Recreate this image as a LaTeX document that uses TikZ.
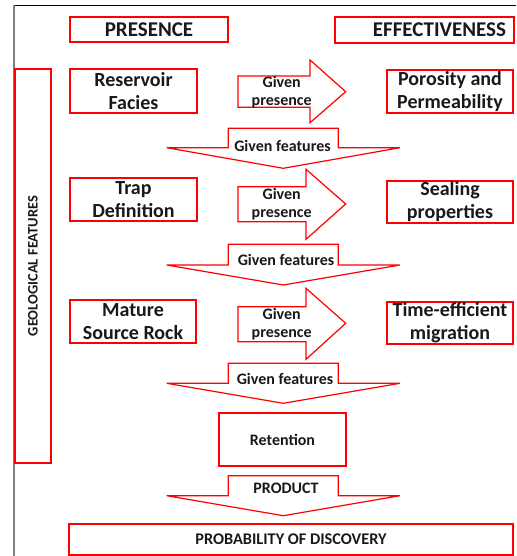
\documentclass[tikz,border=0pt]{standalone}
\usepackage{fontspec}
\setmainfont{Carlito}
\usepackage{tikz}
\usetikzlibrary{positioning}
\tikzstyle{redbox} = [rectangle, draw=red, line width=1.2pt, inner sep=0pt, align=center, text=black!90, font=\bfseries\fontsize{20}{23}\selectfont]
\tikzstyle{blockarrow} = [draw=red, line width=1.2pt, fill=white, line join=miter]
\tikzstyle{arrowtext} = [align=center, text=black!90, font=\bfseries\fontsize{16}{18}\selectfont]

\begin{document}
\begin{tikzpicture}[x=1pt, y=-1pt]
    \useasboundingbox (0,0) rectangle (516,556);
    % Frame
    \draw[line width=0.8pt] (14,5) -- (516,5);
    \draw[gray, line width=1.3pt] (14,5) -- (14,556);

    % Column headings
    \node[redbox, minimum width=158pt, minimum height=25pt, font=\bfseries\fontsize{21}{24}\selectfont] (presence) at (149,29.5) {PRESENCE};
    \node[redbox, minimum width=179pt, minimum height=26pt, text width=163pt, inner xsep=8pt, align=right, font=\bfseries\fontsize{21}{24}\selectfont] (effective) at (424.5,30) {EFFECTIVENESS};

    % Side box
    \node[redbox, rotate=90, minimum width=394pt, minimum height=36pt, font=\bfseries\fontsize{14.5}{17}\selectfont] (geology) at (33,266) {GEOLOGICAL FEATURES};

    % Reservoir row
    \node[redbox, minimum width=127pt, minimum height=44pt] (reservoir) at (133.5,91) {Reservoir\\Facies};
    \node[redbox, minimum width=126pt, minimum height=43pt] (porosity) at (450,91.5) {Porosity and\\Permeability};
    \draw[blockarrow] (238,76) -- (310,76) -- (310,60) -- (345.7,91.7) -- (310,122.7) -- (310,107.3) -- (238,107.3) -- cycle;
    \node[arrowtext] (given1) at (281.7,92) {Given\\presence};

    % Features arrow 1
    \draw[blockarrow] (228.3,128.3) -- (338.3,128.3) -- (338.3,147.7) -- (400,147.7) -- (283.3,168.3) -- (166.7,147.7) -- (228.3,147.7) -- cycle;
    \node[arrowtext] (features1) at (282.5,146) {Given features};

    % Trap row
    \node[redbox, minimum width=127pt, minimum height=43pt] (trap) at (133.5,199.5) {Trap\\Definition};
    \node[redbox, minimum width=126pt, minimum height=42pt] (sealing) at (450,202) {Sealing\\properties};
    \draw[blockarrow] (238,186.7) -- (306,186.7) -- (306,169.3) -- (345.7,204) -- (306,239.3) -- (306,221.7) -- (238,221.7) -- cycle;
    \node[arrowtext] (given2) at (281.7,204.5) {Given\\presence};

    % Features arrow 2
    \draw[blockarrow] (228.3,244.3) -- (338.3,244.3) -- (338.3,265) -- (400,265) -- (283.3,285) -- (166.7,265) -- (228.3,265) -- cycle;
    \node[arrowtext] (features2) at (286,260) {Given features};

    % Source rock row
    \node[redbox, minimum width=126pt, minimum height=43pt] (source) at (133,321.5) {Mature\\Source Rock};
    \node[redbox, minimum width=126pt, minimum height=42pt] (migration) at (450,323) {Time-efficient\\migration};
    \draw[blockarrow] (238,306.7) -- (306,306.7) -- (306,288.3) -- (345.7,323.3) -- (306,359.3) -- (306,341.7) -- (238,341.7) -- cycle;
    \node[arrowtext] (given3) at (281.7,324) {Given\\presence};

    % Features arrow 3
    \draw[blockarrow] (228.3,363.3) -- (338.3,363.3) -- (338.3,383.3) -- (400,383.3) -- (283.3,403.3) -- (166.7,383.3) -- (228.3,383.3) -- cycle;
    \node[arrowtext] (features3) at (285,379) {Given features};

    % Retention and product
    \node[redbox, minimum width=127pt, minimum height=53pt, font=\bfseries\fontsize{16}{18}\selectfont] (retention) at (282.5,439.5) {Retention};
    \draw[blockarrow] (228.3,475.7) -- (338.3,475.7) -- (338.3,495.7) -- (400,495.7) -- (283.3,515.7) -- (166.7,495.7) -- (228.3,495.7) -- cycle;
    \node[arrowtext] (product) at (286,488) {PRODUCT};

    % Result
    \node[redbox, minimum width=444pt, minimum height=31pt, font=\bfseries\fontsize{16.3}{18}\selectfont] (discovery) at (291,539.5) {PROBABILITY OF DISCOVERY};
\end{tikzpicture}
\end{document}
